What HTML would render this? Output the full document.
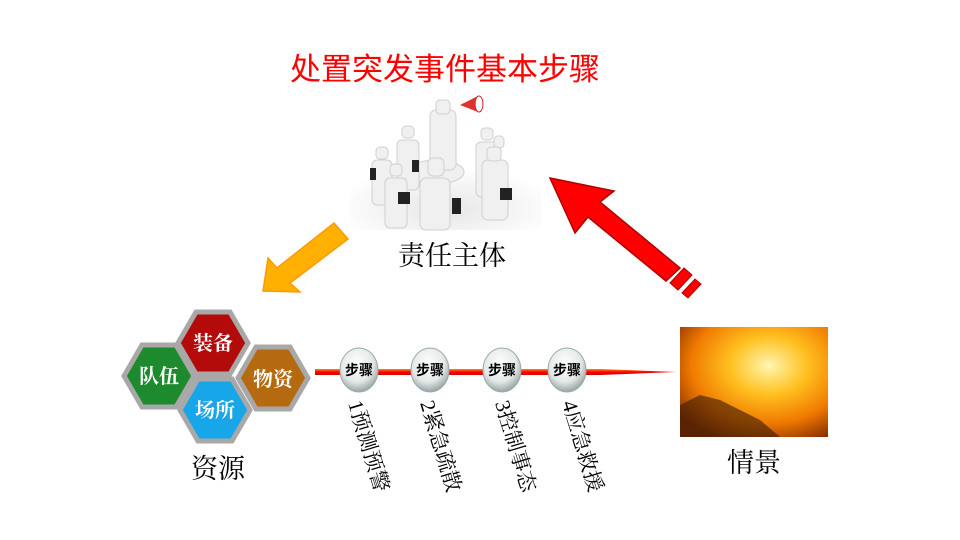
<!DOCTYPE html>
<html><head><meta charset="utf-8"><style>
body{margin:0;background:#fff}
svg{display:block;font-family:"Liberation Serif","Noto Serif CJK SC",serif}
</style></head><body>
<svg width="960" height="540" viewBox="0 0 960 540">
<defs>
<radialGradient id="fire" cx="0.6" cy="0.35" r="0.75">
<stop offset="0" stop-color="#fff6b0"/><stop offset="0.35" stop-color="#ffc020"/><stop offset="0.7" stop-color="#f07a00"/><stop offset="1" stop-color="#8a3000"/></radialGradient>
<radialGradient id="ball" cx="0.45" cy="0.35" r="0.7">
<stop offset="0" stop-color="#ffffff"/><stop offset="0.6" stop-color="#e4e8e8"/><stop offset="1" stop-color="#8a9595"/></radialGradient>
<linearGradient id="line" x1="0" y1="0" x2="0" y2="1"><stop offset="0" stop-color="#ff9000"/><stop offset="0.5" stop-color="#ff0000"/><stop offset="1" stop-color="#d00000"/></linearGradient>
<radialGradient id="floor" cx="0.5" cy="0.7" r="0.6"><stop offset="0" stop-color="#e6e6e6"/><stop offset="1" stop-color="#fff"/></radialGradient>
</defs>
<text x="445" y="80" font-size="31" fill="#ff0000" text-anchor="middle" font-family="Liberation Sans,'Noto Sans CJK SC',sans-serif">处置突发事件基本步骤</text>
<rect x="350" y="160" width="192" height="70" fill="url(#floor)"/>
<g fill="#f0f0f0" stroke="#cfcfcf">
<ellipse cx="436" cy="172" rx="28" ry="12"/>
<rect x="430" y="110" width="26" height="60" rx="6"/><rect x="436" y="100" width="14" height="14" rx="4"/>
<rect x="372" y="160" width="20" height="45" rx="5"/><rect x="376" y="147" width="12" height="12" rx="4"/>
<rect x="397" y="140" width="22" height="50" rx="5"/><rect x="402" y="126" width="12" height="12" rx="4"/>
<rect x="385" y="178" width="22" height="50" rx="5"/><rect x="390" y="164" width="12" height="12" rx="4"/>
<rect x="420" y="178" width="30" height="52" rx="6"/><rect x="428" y="158" width="16" height="18" rx="5"/>
<rect x="476" y="142" width="22" height="55" rx="5"/><rect x="481" y="128" width="12" height="12" rx="4"/>
<rect x="488" y="168" width="20" height="45" rx="5"/><rect x="494" y="136" width="10" height="12" rx="4"/>
<rect x="482" y="160" width="26" height="60" rx="6"/><rect x="487" y="147" width="14" height="14" rx="4"/>
</g>
<g fill="#222"><rect x="398" y="192" width="12" height="12"/><rect x="452" y="198" width="9" height="16"/><rect x="500" y="188" width="12" height="12"/><rect x="370" y="168" width="6" height="12"/><rect x="412" y="160" width="7" height="12"/></g>
<path d="M460 105 L478 96 L478 112 Z" fill="#e03030"/><ellipse cx="479" cy="104" rx="4" ry="8" fill="#fff" stroke="#d02020"/>
<text x="452" y="265" font-size="27" text-anchor="middle">责任主体</text>
<path d="M334 223 L348 239 L290 283 L300 292 L263 291 L268 258 L277 268 Z" fill="#ffb000" stroke="#ff9a00" stroke-width="1.5"/>
<path d="M550 178 L614 191 L600 202 L680 268 L666 281 L588 217 L575 233 Z" fill="#ff0000" stroke="#b00000" stroke-width="1.5"/>
<path d="M670 283 L684 268 L692 275 L678 290 Z" fill="#ff0000" stroke="#b00000"/>
<path d="M682 293 L695 279 L701 284 L688 298 Z" fill="#ff0000" stroke="#b00000"/>
<g stroke="#a8a8a8" stroke-width="5" fill="#fff">
<polygon points="124,376 142,345 176,345 194,376 176,407 142,407" fill="#1e8a2e"/>
<polygon points="178,343 196,312 230,312 248,343 230,374 196,374" fill="#b30a0a"/>
<polygon points="238,378 256,347 290,347 308,378 290,409 256,409" fill="#b56a10"/>
<polygon points="180,410 198,379 232,379 250,410 232,441 198,441" fill="#17a6e8"/>
</g>
<g font-size="20" fill="#fff" text-anchor="middle" font-family="'Noto Serif CJK SC',serif" font-weight="bold">
<text x="159" y="383">队伍</text><text x="213" y="350">装备</text><text x="273" y="386">物资</text><text x="215" y="417">场所</text>
</g>
<text x="218" y="478" font-size="27" text-anchor="middle">资源</text>
<path d="M315 369 L600 369 L676 372 L600 375 L315 375 Z" fill="url(#line)"/>
<g font-size="14" font-weight="bold" text-anchor="middle" font-family="'Noto Sans CJK SC',sans-serif">
<ellipse cx="359" cy="370" rx="19" ry="22" fill="url(#ball)" stroke="#9aa" /><text x="359" y="375">步骤</text>
<ellipse cx="430" cy="370" rx="19" ry="22" fill="url(#ball)" stroke="#9aa"/><text x="430" y="375">步骤</text>
<ellipse cx="502" cy="370" rx="19" ry="22" fill="url(#ball)" stroke="#9aa"/><text x="502" y="375">步骤</text>
<ellipse cx="567" cy="370" rx="19" ry="22" fill="url(#ball)" stroke="#9aa"/><text x="567" y="375">步骤</text>
</g>
<g font-size="21">
<text transform="translate(348,403) rotate(73)">1预测预警</text>
<text transform="translate(420,403) rotate(73)">2紧急疏散</text>
<text transform="translate(495,403) rotate(73)">3控制事态</text>
<text transform="translate(562,403) rotate(73)">4应急救援</text>
</g>
<rect x="680" y="327" width="148" height="110" fill="url(#fire)"/>
<path d="M680 437 L680 405 L700 395 L720 400 L740 410 L760 420 L780 437 Z" fill="#3a1a05" opacity="0.6"/>
<text x="754" y="472" font-size="27" text-anchor="middle">情景</text>
</svg>
</body></html>
